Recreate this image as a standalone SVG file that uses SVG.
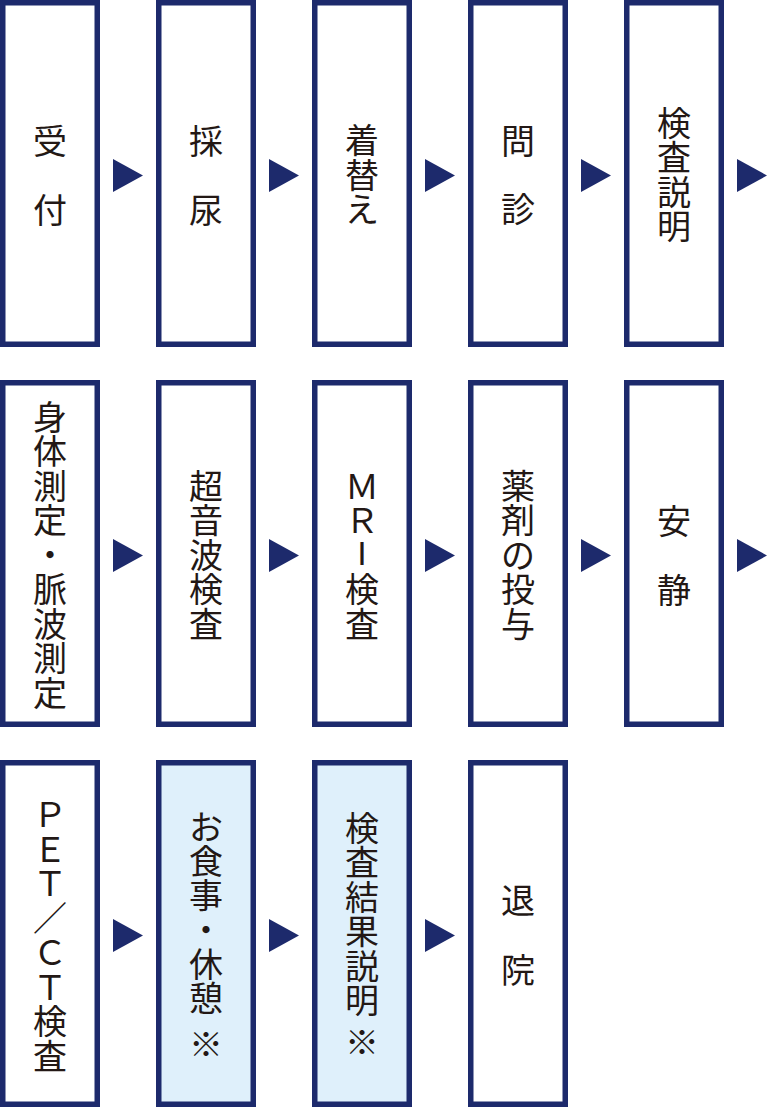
<svg xmlns="http://www.w3.org/2000/svg" width="768" height="1109" viewBox="0 0 768 1109">
<style>
.box{fill:#ffffff;stroke:#1d2a6c;stroke-width:5.5}
.hl{fill:#dff0fb}
.arr{fill:#1d2a6c}
text{font-family:"Noto Sans CJK JP","Noto Sans CJK SC",sans-serif;font-size:34px;fill:#231815;text-anchor:middle;dominant-baseline:central}
</style>
<rect width="768" height="1109" fill="#ffffff"/>
<g id="connectors">
<polygon class="arr" points="113,159 143,175.5 113,192"/>
<polygon class="arr" points="269,159 299,175.5 269,192"/>
<polygon class="arr" points="425,159 455,175.5 425,192"/>
<polygon class="arr" points="581,159 611,175.5 581,192"/>
<polygon class="arr" points="737,159 767,175.5 737,192"/>
<polygon class="arr" points="113,539 143,555.5 113,572"/>
<polygon class="arr" points="269,539 299,555.5 269,572"/>
<polygon class="arr" points="425,539 455,555.5 425,572"/>
<polygon class="arr" points="581,539 611,555.5 581,572"/>
<polygon class="arr" points="737,539 767,555.5 737,572"/>
<polygon class="arr" points="113,919 143,935.5 113,952"/>
<polygon class="arr" points="269,919 299,935.5 269,952"/>
<polygon class="arr" points="425,919 455,935.5 425,952"/>
</g>
<g id="n1"><rect class="box" x="2.75" y="2.75" width="94.5" height="341.5"/>
<text><tspan x="50" y="139">受</tspan><tspan x="50" y="207.5">付</tspan></text></g>
<g id="n2"><rect class="box" x="158.75" y="2.75" width="94.5" height="341.5"/>
<text><tspan x="206" y="139">採</tspan><tspan x="206" y="207.5">尿</tspan></text></g>
<g id="n3"><rect class="box" x="314.75" y="2.75" width="94.5" height="341.5"/>
<text><tspan x="362" y="138">着</tspan><tspan x="362" y="172.5">替</tspan><tspan x="362" y="207">え</tspan></text></g>
<g id="n4"><rect class="box" x="470.75" y="2.75" width="94.5" height="341.5"/>
<text><tspan x="518" y="138.5">問</tspan><tspan x="518" y="207">診</tspan></text></g>
<g id="n5"><rect class="box" x="626.75" y="2.75" width="94.5" height="341.5"/>
<text><tspan x="674" y="120.5">検</tspan><tspan x="674" y="155">査</tspan><tspan x="674" y="189.5">説</tspan><tspan x="674" y="224">明</tspan></text></g>
<g id="n6"><rect class="box" x="2.75" y="382.75" width="94.5" height="341.5"/>
<text><tspan x="50" y="414.5">身</tspan><tspan x="50" y="449">体</tspan><tspan x="50" y="483.5">測</tspan><tspan x="50" y="518">定</tspan><tspan x="50" y="552.5">・</tspan><tspan x="50" y="587">脈</tspan><tspan x="50" y="621.5">波</tspan><tspan x="50" y="656">測</tspan><tspan x="50" y="690.5">定</tspan></text></g>
<g id="n7"><rect class="box" x="158.75" y="382.75" width="94.5" height="341.5"/>
<text><tspan x="206" y="483.5">超</tspan><tspan x="206" y="518">音</tspan><tspan x="206" y="552.5">波</tspan><tspan x="206" y="587">検</tspan><tspan x="206" y="621.5">査</tspan></text></g>
<g id="n8"><rect class="box" x="314.75" y="382.75" width="94.5" height="341.5"/>
<text><tspan x="362" y="483.5">Ｍ</tspan><tspan x="362" y="518">Ｒ</tspan><tspan x="362" y="552.5" style="font-family:'Liberation Sans',Arial,sans-serif">I</tspan><tspan x="362" y="587">検</tspan><tspan x="362" y="621.5">査</tspan></text></g>
<g id="n9"><rect class="box" x="470.75" y="382.75" width="94.5" height="341.5"/>
<text><tspan x="518" y="483.5">薬</tspan><tspan x="518" y="518">剤</tspan><tspan x="518" y="552.5">の</tspan><tspan x="518" y="587">投</tspan><tspan x="518" y="621.5">与</tspan></text></g>
<g id="n10"><rect class="box" x="626.75" y="382.75" width="94.5" height="341.5"/>
<text><tspan x="674" y="519">安</tspan><tspan x="674" y="588">静</tspan></text></g>
<g id="n11"><rect class="box" x="2.75" y="762.75" width="94.5" height="341.5"/>
<text><tspan x="50" y="812">Ｐ</tspan><tspan x="50" y="846.5">Ｅ</tspan><tspan x="50" y="881">Ｔ</tspan><tspan x="50" y="915.5">／</tspan><tspan x="50" y="950">Ｃ</tspan><tspan x="50" y="984.5">Ｔ</tspan><tspan x="50" y="1019">検</tspan><tspan x="50" y="1053.5">査</tspan></text></g>
<g id="n12"><rect class="box hl" x="158.75" y="762.75" width="94.5" height="341.5"/>
<text><tspan x="206" y="825">お</tspan><tspan x="206" y="859.2">食</tspan><tspan x="206" y="893.4">事</tspan><tspan x="206" y="927.6">・</tspan><tspan x="206" y="961.8">休</tspan><tspan x="206" y="996">憩</tspan><tspan x="206" y="1042">※</tspan></text></g>
<g id="n13"><rect class="box hl" x="314.75" y="762.75" width="94.5" height="341.5"/>
<text><tspan x="362" y="826">検</tspan><tspan x="362" y="860.4">査</tspan><tspan x="362" y="894.8">結</tspan><tspan x="362" y="929.2">果</tspan><tspan x="362" y="963.6">説</tspan><tspan x="362" y="998">明</tspan><tspan x="362" y="1040">※</tspan></text></g>
<g id="n14"><rect class="box" x="470.75" y="762.75" width="94.5" height="341.5"/>
<text><tspan x="518" y="898">退</tspan><tspan x="518" y="967.5">院</tspan></text></g>
</svg>
